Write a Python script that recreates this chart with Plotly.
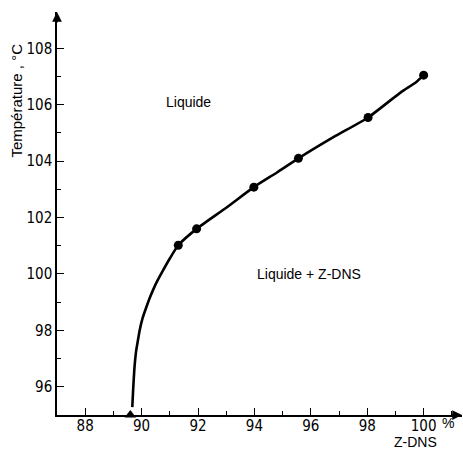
import plotly.graph_objects as go

# Measured points (Z-DNS %, temperature °C)
meas_x = [91.3, 91.95, 93.98, 95.56, 98.03, 100.0]
meas_y = [101.02, 101.6, 103.08, 104.1, 105.55, 107.05]

# Liquidus curve
curve_x = [89.67, 89.70, 89.74, 89.77, 89.81, 89.87, 89.93, 90.03, 90.17, 90.28, 90.4, 90.57,
           90.76, 91.0, 91.3, 91.95, 93.0, 93.98, 94.8, 95.56, 96.8, 98.03, 99.2, 99.73, 100.0]
curve_y = [95.28, 95.9, 96.58, 96.95, 97.3, 97.65, 98.0, 98.42, 98.83, 99.13, 99.42, 99.78,
           100.13, 100.55, 101.02, 101.6, 102.35, 103.08, 103.6, 104.1, 104.85, 105.55, 106.45,
           106.8, 107.05]

# Start point of the curve on the axis
tri_x = [89.6]
tri_y = [95.0]

x_ticks = [88, 90, 92, 94, 96, 98, 100]
y_ticks = [96, 98, 100, 102, 104, 106, 108]

FONT = "Liberation Sans Narrow, DejaVu Sans Condensed, Liberation Sans"
FONT2 = "Liberation Sans"

fig = go.Figure()
fig.add_trace(go.Scatter(x=curve_x, y=curve_y, mode="lines",
                         line=dict(color="black", width=2.6, shape="spline", smoothing=0.6),
                         hoverinfo="skip"))
fig.add_trace(go.Scatter(x=meas_x, y=meas_y, mode="markers",
                         marker=dict(color="black", size=9, symbol="circle")))
fig.add_trace(go.Scatter(x=tri_x, y=tri_y, mode="markers", cliponaxis=False,
                         marker=dict(color="black", size=10, symbol="triangle-up")))

axis_common = dict(showline=True, linecolor="black", linewidth=1.5, ticks="inside",
                   tickcolor="black", tickwidth=1.2, ticklen=7, showgrid=False, zeroline=False,
                   tickfont=dict(family=FONT, size=15, color="black"))

fig.update_xaxes(range=[87, 101.36], tickvals=x_ticks, ticktext=[str(v) for v in x_ticks],
                 minor=dict(ticks="inside", ticklen=4, dtick=1, tick0=87, tickcolor="black"),
                 ticklabelstandoff=-4, **axis_common)
fig.update_yaxes(range=[95, 109.29], tickvals=y_ticks, ticktext=[str(v) for v in y_ticks],
                 minor=dict(ticks="inside", ticklen=4, dtick=1, tick0=95, tickcolor="black"),
                 **axis_common)

def txt(x, y, s, xref="x", yref="y", angle=0, size=14):
    return dict(x=x, y=y, xref=xref, yref=yref, text=s, showarrow=False, textangle=angle,
                xanchor="center", yanchor="middle",
                font=dict(family=FONT2, size=size, color="black"))

annotations = [
    txt(91.68, 106.1, "Liquide"),
    txt(95.95, 100.0, "Liquide + Z-DNS"),
    txt(0.965, -0.019, "%", "paper", "paper"),
    txt(0.884, -0.067, "Z-DNS", "paper", "paper"),
    txt(-0.099, 0.78, "Température , °C", "paper", "paper", -90, 15),
    # axis arrowheads
    dict(x=0, y=1, xref="paper", yref="paper", ax=0, ay=12, axref="pixel", ayref="pixel",
         text="", showarrow=True, arrowhead=2, arrowsize=1.3, arrowwidth=1.5, arrowcolor="black"),
    dict(x=1, y=0, xref="paper", yref="paper", ax=-12, ay=0, axref="pixel", ayref="pixel",
         text="", showarrow=True, arrowhead=2, arrowsize=1.3, arrowwidth=1.5, arrowcolor="black"),
]

fig.update_layout(width=463, height=450, margin=dict(l=57, r=1, t=12, b=35),
                  paper_bgcolor="white", plot_bgcolor="white", showlegend=False,
                  annotations=annotations)

fig.write_html("out.html")
